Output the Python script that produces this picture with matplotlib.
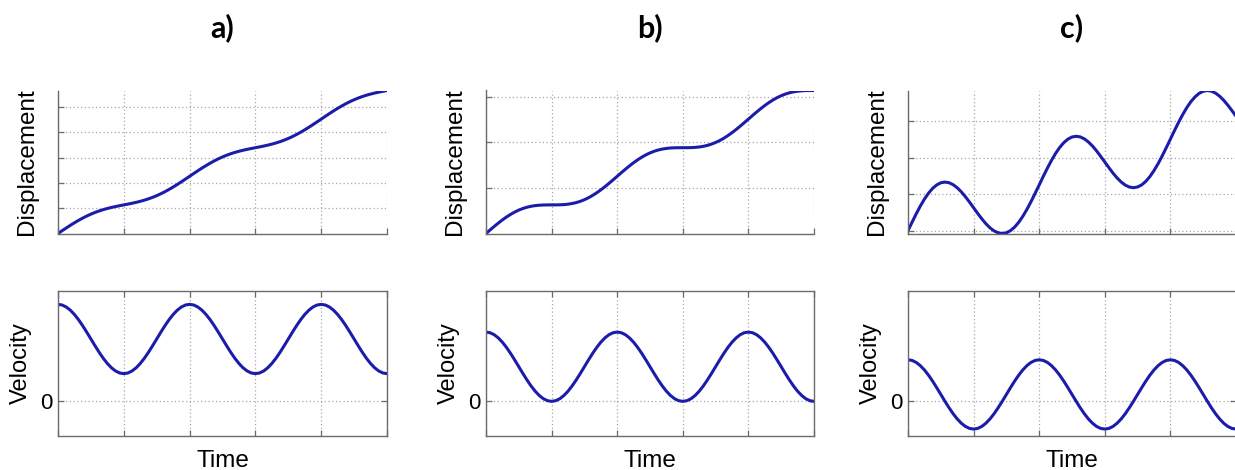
import numpy as np
import matplotlib
matplotlib.use("Agg")
import matplotlib.pyplot as plt

# ---- data (sampled every pi/16 over 0..5*pi) ----
n_samples = 81
panel_titles = ["a)", "b)", "c)"]

vel_a = [2.8, 2.781, 2.724, 2.631, 2.507, 2.356, 2.183, 1.995, 1.8, 1.605, 1.417, 1.244, 1.093, 0.969, 0.876, 0.819,
         0.8, 0.819, 0.876, 0.969, 1.093, 1.244, 1.417, 1.605, 1.8, 1.995, 2.183, 2.356, 2.507, 2.631, 2.724, 2.781,
         2.8, 2.781, 2.724, 2.631, 2.507, 2.356, 2.183, 1.995, 1.8, 1.605, 1.417, 1.244, 1.093, 0.969, 0.876, 0.819,
         0.8, 0.819, 0.876, 0.969, 1.093, 1.244, 1.417, 1.605, 1.8, 1.995, 2.183, 2.356, 2.507, 2.631, 2.724, 2.781,
         2.8, 2.781, 2.724, 2.631, 2.507, 2.356, 2.183, 1.995, 1.8, 1.605, 1.417, 1.244, 1.093, 0.969, 0.876, 0.819,
         0.8]
disp_a = [0, 0.548, 1.089, 1.616, 2.121, 2.598, 3.044, 3.455, 3.828, 4.162, 4.458, 4.719, 4.948, 5.150,
          5.330, 5.497, 5.655, 5.813, 5.979, 6.160, 6.362, 6.591, 6.852, 7.148, 7.482, 7.855, 8.265,
          8.711, 9.189, 9.693, 10.220, 10.761, 11.310, 11.859, 12.400, 12.926, 13.431, 13.909, 14.354,
          14.765, 15.137, 15.471, 15.768, 16.029, 16.258, 16.461, 16.641, 16.806, 16.965, 17.123,
          17.288, 17.469, 17.671, 17.900, 18.161, 18.457, 18.792, 19.165, 19.575, 20.021, 20.499,
          21.003, 21.530, 22.071, 22.619, 23.168, 23.709, 24.235, 24.740, 25.218, 25.664, 26.075,
          26.447, 26.782, 27.078, 27.339, 27.568, 27.770, 27.950, 28.116, 28.274]

vel_b = [2.0, 1.981, 1.924, 1.831, 1.707, 1.556, 1.383, 1.195, 1.0, 0.805, 0.617, 0.444, 0.293, 0.169, 0.076, 0.019,
         0.0, 0.019, 0.076, 0.169, 0.293, 0.444, 0.617, 0.805, 1.0, 1.195, 1.383, 1.556, 1.707, 1.831, 1.924, 1.981,
         2.0, 1.981, 1.924, 1.831, 1.707, 1.556, 1.383, 1.195, 1.0, 0.805, 0.617, 0.444, 0.293, 0.169, 0.076, 0.019,
         0.0, 0.019, 0.076, 0.169, 0.293, 0.444, 0.617, 0.805, 1.0, 1.195, 1.383, 1.556, 1.707, 1.831, 1.924, 1.981,
         2.0, 1.981, 1.924, 1.831, 1.707, 1.556, 1.383, 1.195, 1.0, 0.805, 0.617, 0.444, 0.293, 0.169, 0.076, 0.019,
         0.0]
disp_b = [0, 0.391, 0.775, 1.145, 1.493, 1.813, 2.102, 2.355, 2.571, 2.748, 2.887, 2.991, 3.063, 3.108,
          3.131, 3.141, 3.142, 3.143, 3.152, 3.175, 3.220, 3.292, 3.396, 3.535, 3.712, 3.928, 4.181,
          4.470, 4.791, 5.138, 5.508, 5.892, 6.283, 6.675, 7.059, 7.428, 7.776, 8.097, 8.385, 8.639,
          8.854, 9.031, 9.171, 9.275, 9.346, 9.392, 9.415, 9.423, 9.425, 9.426, 9.434, 9.458, 9.503,
          9.575, 9.679, 9.818, 9.996, 10.211, 10.464, 10.753, 11.074, 11.421, 11.791, 12.175, 12.566,
          12.958, 13.342, 13.711, 14.059, 14.380, 14.668, 14.922, 15.137, 15.315, 15.454, 15.558,
          15.630, 15.675, 15.698, 15.707, 15.708]

vel_c = [1.2, 1.181, 1.124, 1.031, 0.907, 0.756, 0.583, 0.395, 0.2, 0.005, -0.183, -0.356, -0.507, -0.631, -0.724, -0.781,
         -0.8, -0.781, -0.724, -0.631, -0.507, -0.356, -0.183, 0.005, 0.2, 0.395, 0.583, 0.756, 0.907, 1.031, 1.124, 1.181,
         1.2, 1.181, 1.124, 1.031, 0.907, 0.756, 0.583, 0.395, 0.2, 0.005, -0.183, -0.356, -0.507, -0.631, -0.724, -0.781,
         -0.8, -0.781, -0.724, -0.631, -0.507, -0.356, -0.183, 0.005, 0.2, 0.395, 0.583, 0.756, 0.907, 1.031, 1.124, 1.181,
         1.2, 1.181, 1.124, 1.031, 0.907, 0.756, 0.583, 0.395, 0.2, 0.005, -0.183, -0.356, -0.507, -0.631, -0.724, -0.781,
         -0.8]
disp_c = [0, 0.234, 0.461, 0.674, 0.865, 1.028, 1.160, 1.255, 1.314, 1.334, 1.316, 1.263, 1.178, 1.066,
          0.932, 0.785, 0.629, 0.473, 0.325, 0.190, 0.078, -0.007, -0.060, -0.078, -0.058, 0.001, 0.097,
          0.229, 0.393, 0.583, 0.796, 1.023, 1.256, 1.491, 1.718, 1.930, 2.121, 2.285, 2.416, 2.513,
          2.571, 2.591, 2.574, 2.521, 2.434, 2.323, 2.189, 2.040, 1.885, 1.729, 1.580, 1.447, 1.335,
          1.250, 1.197, 1.179, 1.200, 1.257, 1.353, 1.485, 1.649, 1.839, 2.052, 2.279, 2.513, 2.748,
          2.975, 3.187, 3.378, 3.542, 3.672, 3.769, 3.827, 3.848, 3.830, 3.777, 3.692, 3.580, 3.446,
          3.298, 3.142]

disp_ticks = [[5, 10, 15, 20, 25], [5, 10, 15], [0, 1, 2, 3]]
vel_ticks = [0]
vel_ylim = (-1.0, 3.2)

velocities = [vel_a, vel_b, vel_c]
displacements = [disp_a, disp_b, disp_c]

t = np.arange(n_samples) * np.pi / 16
time_ticks = np.arange(6) * np.pi

# ---- style ----
LINE = "#1c1cab"
SPINE = "#6b6b6b"
GRID = "#a8a8a8"
FONT = "Liberation Sans"

W, H = 1235, 470
fig = plt.figure(figsize=(W / 100, H / 100), dpi=100)

lefts = [58, 486, 908]
widths = [329, 328, 328]
top_row = (90.5, 233.5)
bot_row = (290.5, 436)


def rect(left, width, row):
    top, bottom = row
    return [left / W, (H - bottom) / H, width / W, (bottom - top) / H]


for i in range(3):
    # displacement
    ax = fig.add_axes(rect(lefts[i], widths[i], top_row))
    ax.plot(t, displacements[i], color=LINE, lw=2.2, solid_capstyle="round")
    ax.set_xlim(t[0], t[-1])
    ax.set_ylim(min(displacements[i]), max(displacements[i]))
    ax.set_xticks(time_ticks)
    ax.set_yticks(disp_ticks[i])
    ax.set_xticklabels([])
    ax.set_yticklabels([])
    ax.grid(True, color=GRID, linestyle=(0, (1, 2)), linewidth=0.9)
    for s in ["top", "right"]:
        ax.spines[s].set_visible(False)
    for s in ["left", "bottom"]:
        ax.spines[s].set_color(SPINE)
        ax.spines[s].set_linewidth(1.0)
    ax.tick_params(direction="in", length=4, color=SPINE, width=0.9)
    ax.set_ylabel("Displacement", fontsize=17.5, family=FONT, labelpad=11)

    # velocity
    ax2 = fig.add_axes(rect(lefts[i], widths[i], bot_row))
    ax2.plot(t, velocities[i], color=LINE, lw=2.2, solid_capstyle="round")
    ax2.set_xlim(t[0], t[-1])
    ax2.set_ylim(*vel_ylim)
    ax2.set_xticks(time_ticks)
    ax2.set_yticks(vel_ticks)
    ax2.set_xticklabels([])
    ax2.set_yticklabels(["0"], fontsize=16, family=FONT)
    ax2.grid(True, color=GRID, linestyle=(0, (1, 2)), linewidth=0.9)
    for s in ax2.spines.values():
        s.set_color(SPINE)
        s.set_linewidth(1.0)
    ax2.tick_params(direction="in", length=4, color=SPINE, width=0.9,
                    top=True, right=True, pad=4)
    ax2.set_ylabel("Velocity", fontsize=17, family=FONT, labelpad=6)
    ax2.set_xlabel("Time", fontsize=17.5, family=FONT, labelpad=6)

    # title
    cx = (lefts[i] + widths[i] / 2) / W
    fig.text(cx, (H - 28) / H, panel_titles[i], ha="center", va="center",
             fontsize=22, fontweight="bold", family="Lato")

fig.savefig("out.png", dpi=100)
